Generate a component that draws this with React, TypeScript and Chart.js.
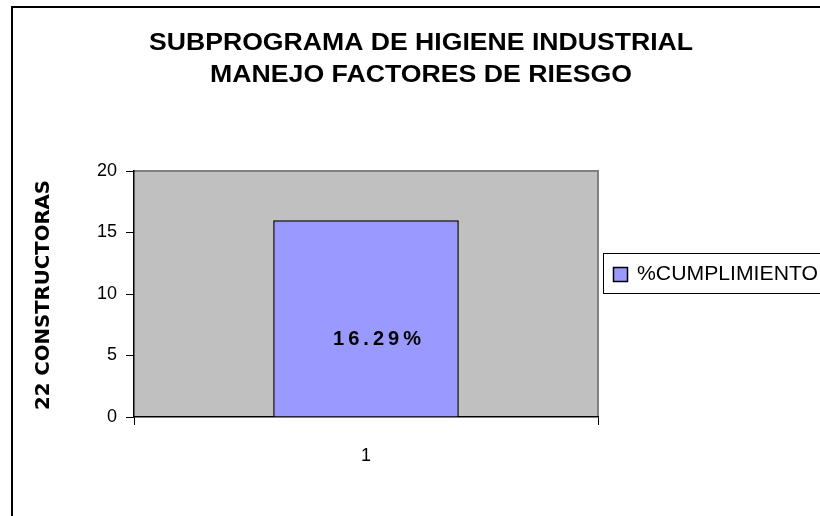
import React, { useEffect, useRef } from "react";
import { Chart, registerables } from "chart.js";

Chart.register(...registerables);

const categories = ["1"];
const seriesName = "%CUMPLIMIENTO";
const seriesValues = [16];
const valueLabels = ["16.29%"];
const yTicks = [0, 5, 10, 15, 20];
const titleLines = ["SUBPROGRAMA DE HIGIENE INDUSTRIAL", "MANEJO FACTORES DE RIESGO"];
const yTitle = "22 CONSTRUCTORAS";

const BAR_FILL = "#9999FF";
const PLOT_BG = "#C0C0C0";

function fitText(ctx: any, text: string, x: number, y: number, width: number) {
  const w = ctx.measureText(text).width;
  ctx.save();
  ctx.translate(x, y);
  ctx.scale(width / w, 1);
  ctx.fillText(text, 0, 0);
  ctx.restore();
}

const decorPlugin = {
  id: "decor",
  beforeDraw(chart: any) {
    const { ctx, chartArea: a } = chart;
    ctx.save();
    ctx.fillStyle = "#ffffff";
    ctx.fillRect(0, 0, chart.width, chart.height);
    ctx.strokeStyle = "#000";
    ctx.lineWidth = 2;
    ctx.beginPath();
    ctx.moveTo(12, chart.height + 5);
    ctx.lineTo(12, 7);
    ctx.lineTo(chart.width + 5, 7);
    ctx.stroke();
    ctx.fillStyle = PLOT_BG;
    ctx.fillRect(a.left, a.top, a.right - a.left, a.bottom - a.top);
    ctx.strokeStyle = "#808080";
    ctx.lineWidth = 2;
    ctx.beginPath();
    ctx.moveTo(a.left, a.top);
    ctx.lineTo(a.right, a.top);
    ctx.lineTo(a.right, a.bottom);
    ctx.stroke();
    ctx.restore();
  },
  afterDraw(chart: any) {
    const { ctx } = chart;
    ctx.save();
    ctx.fillStyle = "#000";
    ctx.textAlign = "center";
    ctx.textBaseline = "middle";
    // title
    ctx.font = "bold 24px 'Liberation Sans', Arial, sans-serif";
    fitText(ctx, titleLines[0], 421, 43, 544);
    fitText(ctx, titleLines[1], 421, 75, 422);
    // y axis title
    ctx.font = "bold 20px 'DejaVu Sans', sans-serif";
    const yw = ctx.measureText(yTitle).width;
    ctx.save();
    ctx.translate(44, 295);
    ctx.rotate(-Math.PI / 2);
    ctx.scale(230 / yw, 1);
    ctx.fillText(yTitle, 0, 0);
    ctx.restore();
    // value labels
    const meta = chart.getDatasetMeta(0);
    ctx.font = "bold 20px 'Liberation Sans', Arial, sans-serif";
    (ctx as any).letterSpacing = "4px";
    meta.data.forEach((bar: any, i: number) => {
      const yMid = (bar.y + bar.base) / 2;
      fitText(ctx, valueLabels[i], bar.x + 13, yMid + 21, 92);
    });
    (ctx as any).letterSpacing = "0px";
    // legend
    ctx.lineWidth = 1;
    ctx.strokeStyle = "#000";
    ctx.strokeRect(603.5, 253.5, 240, 40);
    const ds = chart.data.datasets[0];
    ctx.fillStyle = ds.backgroundColor;
    ctx.fillRect(613.5, 267.5, 14, 14);
    ctx.lineWidth = 1.5;
    ctx.strokeRect(613.5, 267.5, 14, 14);
    ctx.fillStyle = "#000";
    ctx.textAlign = "left";
    ctx.font = "20px 'Liberation Sans', Arial, sans-serif";
    fitText(ctx, ds.label, 637, 274, 181);
    ctx.restore();
  },
};

export default function App() {
  const ref = useRef<HTMLCanvasElement>(null);
  useEffect(() => {
    document.body.style.margin = "0";
    const chart = new Chart(ref.current!, {
      type: "bar",
      data: {
        labels: categories,
        datasets: [
          {
            label: seriesName,
            data: seriesValues,
            backgroundColor: BAR_FILL,
            borderColor: "#000",
            borderWidth: 1.5,
            categoryPercentage: 1,
            barPercentage: 0.4,
          },
        ],
      },
      options: {
        responsive: false,
        animation: false,
        devicePixelRatio: 1,
        layout: { padding: { left: 0, right: 222, top: 171, bottom: 0 } },
        plugins: { legend: { display: false }, title: { display: false }, tooltip: { enabled: false } },
        scales: {
          x: {
            afterFit: (s: any) => {
              s.height = 99;
            },
            grid: { drawOnChartArea: false, tickLength: 8, color: "#000", offset: true },
            border: { color: "#000", width: 1.5 },
            ticks: { color: "#000", font: { size: 18, family: "'Liberation Sans', Arial, sans-serif" }, padding: 20 },
          },
          y: {
            min: 0,
            max: 20,
            afterFit: (s: any) => {
              s.width = 134;
            },
            afterBuildTicks: (s: any) => {
              s.ticks = yTicks.map((v) => ({ value: v }));
            },
            grid: { drawOnChartArea: false, tickLength: 8, color: "#000" },
            border: { color: "#000", width: 1.5 },
            ticks: { color: "#000", font: { size: 18, family: "'Liberation Sans', Arial, sans-serif" }, padding: 9 },
          },
        },
      },
      plugins: [decorPlugin],
    });
    return () => chart.destroy();
  }, []);
  return <canvas ref={ref} width={820} height={516} style={{ display: "block" }} />;
}
